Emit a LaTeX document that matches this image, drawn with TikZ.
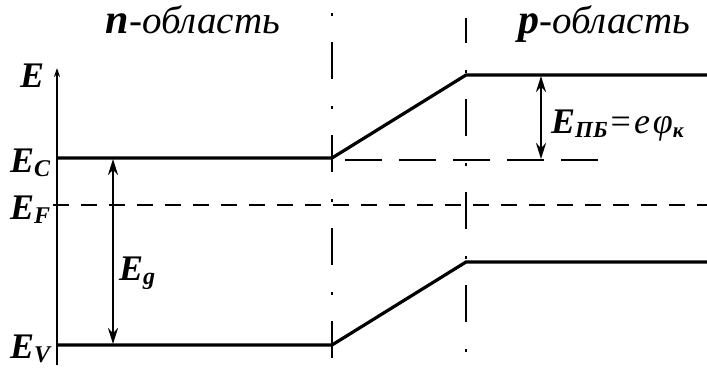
\documentclass[tikz,border=0pt]{standalone}
\usepackage{fontspec}
\setmainfont{Liberation Serif}
\usetikzlibrary{arrows.meta}
\newcommand{\sbs}[2][24]{\raisebox{-0.3ex}{\fontsize{#1}{#1}\selectfont #2}}
\begin{document}
\begin{tikzpicture}[x=1pt,y=-1pt,
  band/.style={line width=3.2pt},
  axis/.style={line width=1.3pt},
  dashdot/.style={line width=1.6pt, dash pattern=on 37pt off 27pt on 3pt off 26pt},
  fermi/.style={line width=2.6pt, dash pattern=on 16pt off 12pt},
  ext/.style={line width=1.4pt, dash pattern=on 37pt off 17pt},
  dimarrow/.style={line width=2.4pt, {Stealth[length=16pt,width=10pt]}-{Stealth[length=16pt,width=10pt]}},
  lbl/.style={font=\fontsize{36}{36}\selectfont\bfseries\itshape, inner sep=0pt},
  ttl/.style={font=\fontsize{39}{39}\selectfont\itshape, inner sep=0pt}]
\useasboundingbox (0,0) rectangle (707,367);
% coordinates
\coordinate (axb) at (57,365);
\coordinate (axt) at (57,68);
\coordinate (c0) at (57,158);
\coordinate (c1) at (332,158);
\coordinate (c2) at (466,75);
\coordinate (c3) at (707,75);
\coordinate (v0) at (57,345);
\coordinate (v1) at (332,345);
\coordinate (v2) at (466,262);
\coordinate (v3) at (707,262);
\coordinate (f0) at (53,205);
\coordinate (f1) at (707,205);
\coordinate (e0) at (345,160);
\coordinate (e1) at (600,160);
\coordinate (d1t) at (332,-51);
\coordinate (d1b) at (332,370);
\coordinate (d2t) at (466,18);
\coordinate (d2b) at (466,370);
\coordinate (g0) at (113,159);
\coordinate (g1) at (113,344);
\coordinate (p0) at (541,76);
\coordinate (p1) at (541,159);
% vertical dash-dot boundaries
\draw[dashdot] (d1t) -- (d1b);
\draw[dashdot, dash phase=12pt] (d2t) -- (d2b);
% axis
\draw[axis,-{Stealth[length=9pt,width=6pt]}] (axb) -- (axt);
% bands
\draw[band] (c0) -- (c1) -- (c2) -- (c3);
\draw[band] (v0) -- (v1) -- (v2) -- (v3);
% Fermi level
\draw[fermi] (f0) -- (f1);
% extension of E_C
\draw[ext] (e0) -- (e1);
% arrows
\draw[dimarrow] (g0) -- (g1);
\draw[dimarrow] (p0) -- (p1);
% labels
\node[lbl, anchor=base west] (lE) at (20,87) {E};
\node[lbl, anchor=base west] (lEC) at (10,172) {E\sbs{C}};
\node[lbl, anchor=base west] (lEF) at (10,219) {E\sbs{F}};
\node[lbl, anchor=base west] (lEV) at (10,358) {E\sbs{V}};
\node[lbl, anchor=base west] (lEg) at (119,280) {E\sbs{g}};
\node[lbl, anchor=base west] (lEpb) at (551,133) {E\sbs[23]{ПБ}\kern3pt{\mdseries\upshape =}\kern3pt{\mdseries e}\kern3pt{\mdseries φ}\sbs[21]{к}};
\node[ttl, anchor=base] (tn) at (193,33) {{\fontsize{42}{42}\selectfont\bfseries n}-область};
\node[ttl, anchor=base] (tp) at (604,33) {{\fontsize{42}{42}\selectfont\bfseries p}-область};
\end{tikzpicture}
\end{document}
